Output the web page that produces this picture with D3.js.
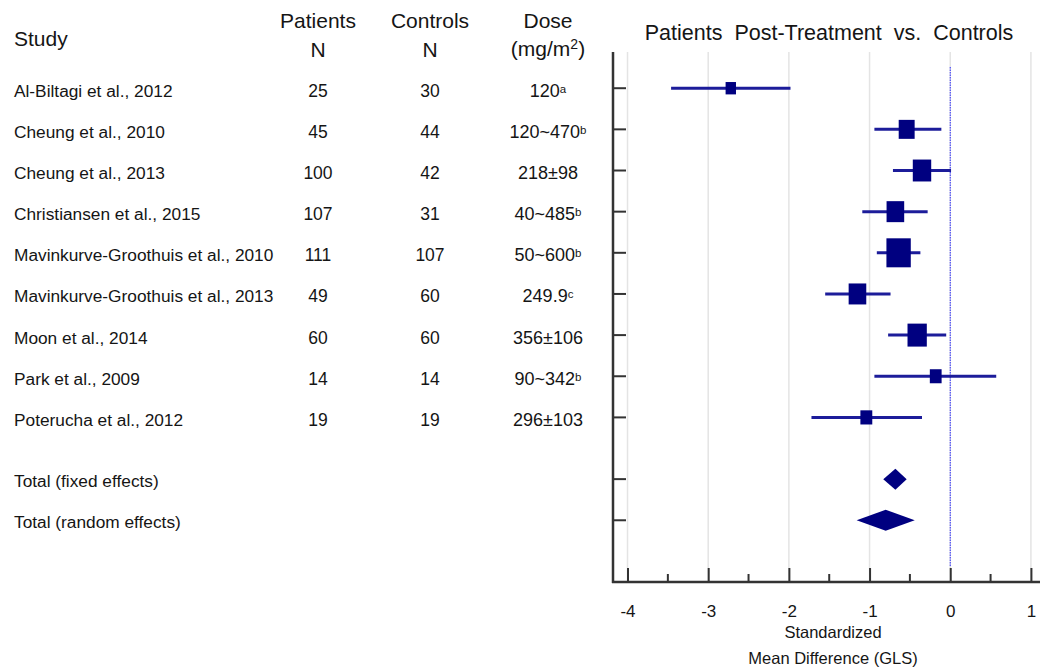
<!DOCTYPE html>
<html>
<head>
<meta charset="utf-8">
<script src="https://cdn.jsdelivr.net/npm/d3@7"></script>
<style>
  body { margin: 0; background: #fff; }
  svg text { font-family: "Liberation Sans", Arial, sans-serif; fill: #151515; }
</style>
</head>
<body>
<svg width="1040" height="669"></svg>
<script>
// study rows
var studies = ["Al-Biltagi et al., 2012", "Cheung et al., 2010", "Cheung et al., 2013",
   "Christiansen et al., 2015", "Mavinkurve-Groothuis et al., 2010",
   "Mavinkurve-Groothuis et al., 2013", "Moon et al., 2014", "Park et al., 2009",
   "Poterucha et al., 2012"];
var patientsN = [25, 45, 100, 107, 111, 49, 60, 14, 19];
var controlsN = [30, 44, 42, 31, 107, 60, 60, 14, 19];
var doseText = ["120", "120~470", "218±98", "40~485", "50~600", "249.9", "356±106", "90~342", "296±103"];
var doseNote = ["a", "b", "", "b", "b", "c", "", "b", ""];

// standardized mean difference and 95% CI
var smd   = [-2.72, -0.54, -0.35, -0.68, -0.64, -1.15, -0.41, -0.18, -1.04];
var lower = [-3.46, -0.94, -0.71, -1.09, -0.91, -1.55, -0.77, -0.94, -1.72];
var upper = [-1.98, -0.11, 0.01, -0.28, -0.37, -0.74, -0.05, 0.57, -0.35];
var weight = [4.2, 9.9, 13.2, 12.1, 23.1, 12.1, 14.5, 5.4, 5.5];

// pooled
var totalLabels = ["Total (fixed effects)", "Total (random effects)"];
var totalSmd   = [-0.68, -0.80];
var totalLower = [-0.83, -1.16];
var totalUpper = [-0.54, -0.44];

var xTicks = [-4, -3, -2, -1, 0, 1];
var xMinor = [-3.5, -2.5, -1.5, -0.5, 0.5];

var svg = d3.select("svg");

var x = d3.scaleLinear()
   .domain([-4.18, 1.12])
   .range([613, 1040.6]);

// row positions: studies 0..8, totals at 9.5 and 10.5
var y = d3.scaleLinear()
   .domain([-0.88, 12])
   .range([52, 582]);

var rowsStudy = studies.map(function(d, i) { return i; });
var rowsTotal = [9.5, 10.5];

var side = d3.scaleSqrt()
   .domain([0, 23.1])
   .range([0, 29]);

var navy = "#000080";
var lineCol = "#1c1c9a";

// ---- table headers ----
svg.append("text").attr("x", 14).attr("y", 46)
   .style("font-size", "21px").text("Study");

var heads = [
   {x: 318, a: "Patients", b: "N"},
   {x: 430, a: "Controls", b: "N"},
   {x: 548, a: "Dose", b: null}
];
heads.forEach(function(h) {
   svg.append("text").attr("x", h.x).attr("y", 28)
      .attr("text-anchor", "middle").style("font-size", "21px").text(h.a);
   if (h.b) {
      svg.append("text").attr("x", h.x).attr("y", 57)
         .attr("text-anchor", "middle").style("font-size", "21px").text(h.b);
   }
});
var unit = svg.append("text").attr("x", 548).attr("y", 56)
   .attr("text-anchor", "middle").style("font-size", "21px");
unit.append("tspan").text("(mg/m");
unit.append("tspan").attr("dy", -7).style("font-size", "14px").text("2");
unit.append("tspan").attr("dy", 7).text(")");

// ---- table body ----
var body = svg.append("g").attr("class", "table");

body.selectAll("text.study")
   .data(studies)
   .enter().append("text")
   .attr("class", "study")
   .attr("x", 14)
   .attr("y", function(d, i) { return y(rowsStudy[i]) + 8.5; })
   .style("font-size", "17.3px")
   .text(function(d) { return d; });

body.selectAll("text.pat")
   .data(patientsN)
   .enter().append("text")
   .attr("x", 318)
   .attr("y", function(d, i) { return y(rowsStudy[i]) + 8.5; })
   .attr("text-anchor", "middle")
   .style("font-size", "17.5px")
   .text(function(d) { return d; });

body.selectAll("text.ctl")
   .data(controlsN)
   .enter().append("text")
   .attr("x", 430)
   .attr("y", function(d, i) { return y(rowsStudy[i]) + 8.5; })
   .attr("text-anchor", "middle")
   .style("font-size", "17.5px")
   .text(function(d) { return d; });

doseText.forEach(function(d, i) {
   var t = body.append("text")
      .attr("x", 548)
      .attr("y", y(rowsStudy[i]) + 8.5)
      .attr("text-anchor", "middle")
      .style("font-size", "18px");
   t.append("tspan").text(d);
   if (doseNote[i]) {
      t.append("tspan").attr("dy", -4).style("font-size", "11.5px").text(doseNote[i]);
   }
});

body.selectAll("text.total")
   .data(totalLabels)
   .enter().append("text")
   .attr("x", 14)
   .attr("y", function(d, i) { return y(rowsTotal[i]) + 8; })
   .style("font-size", "17.3px")
   .text(function(d) { return d; });

// ---- forest plot ----
svg.append("text")
   .attr("x", 829).attr("y", 40)
   .attr("text-anchor", "middle")
   .style("font-size", "21.5px")
   .style("word-spacing", "6px")
   .text("Patients Post-Treatment vs. Controls");

var plot = svg.append("g").attr("class", "plot");

// grid lines
plot.selectAll("line.grid")
   .data(xTicks)
   .enter().append("line")
   .attr("x1", function(d) { return x(d); })
   .attr("x2", function(d) { return x(d); })
   .attr("y1", y.range()[0])
   .attr("y2", y.range()[1])
   .style("stroke", "#e4e4e4")
   .style("stroke-width", 1.5);

// zero reference line
plot.append("line")
   .attr("x1", x(0)).attr("x2", x(0))
   .attr("y1", 67).attr("y2", 566)
   .style("stroke", "#2b2bff")
   .style("stroke-width", 1)
   .style("stroke-dasharray", "1.5,1");

// confidence intervals
plot.selectAll("line.ci")
   .data(smd)
   .enter().append("line")
   .attr("x1", function(d, i) { return x(lower[i]); })
   .attr("x2", function(d, i) { return x(upper[i]); })
   .attr("y1", function(d, i) { return y(rowsStudy[i]); })
   .attr("y2", function(d, i) { return y(rowsStudy[i]); })
   .style("stroke", lineCol)
   .style("stroke-width", 3);

// weighted squares
plot.selectAll("rect.box")
   .data(smd)
   .enter().append("rect")
   .attr("x", function(d, i) { return x(d) - side(weight[i]) * 0.42; })
   .attr("y", function(d, i) { return y(rowsStudy[i]) - side(weight[i]) / 2; })
   .attr("width", function(d, i) { return side(weight[i]) * 0.84; })
   .attr("height", function(d, i) { return side(weight[i]); })
   .style("fill", navy);

// pooled diamonds
plot.selectAll("path.diamond")
   .data(totalSmd)
   .enter().append("path")
   .attr("d", function(d, i) {
      var cy = y(rowsTotal[i]);
      return "M" + x(totalLower[i]) + "," + cy +
         "L" + x(d) + "," + (cy - 10.5) +
         "L" + x(totalUpper[i]) + "," + cy +
         "L" + x(d) + "," + (cy + 10.5) + "Z";
   })
   .style("fill", navy);

// left axis with row ticks
var yTickRows = rowsStudy.concat(rowsTotal);
plot.append("line")
   .attr("x1", 613).attr("x2", 613)
   .attr("y1", y.range()[0]).attr("y2", y.range()[1] + 1)
   .style("stroke", "#333").style("stroke-width", 2.5);
plot.selectAll("line.ytick")
   .data(yTickRows)
   .enter().append("line")
   .attr("x1", 613).attr("x2", 626)
   .attr("y1", function(d) { return y(d); })
   .attr("y2", function(d) { return y(d); })
   .style("stroke", "#333").style("stroke-width", 2);

// bottom axis
var xAxis = d3.axisBottom(x)
   .tickValues(xTicks)
   .tickSize(-14)
   .tickPadding(23)
   .tickFormat(d3.format("d"));

var gx = plot.append("g")
   .attr("transform", "translate(0," + y.range()[1] + ")")
   .call(xAxis);
gx.select(".domain").remove();
gx.selectAll(".tick line").style("stroke", "#333").style("stroke-width", 2);
gx.selectAll(".tick text")
   .style("font-size", "17px")
   .style("font-family", "Liberation Sans, Arial, sans-serif")
   .style("fill", "#151515")
   .text(function(d) { return d < 0 ? "-" + Math.abs(d) : d; });

plot.selectAll("line.minor")
   .data(xMinor)
   .enter().append("line")
   .attr("x1", function(d) { return x(d); })
   .attr("x2", function(d) { return x(d); })
   .attr("y1", y.range()[1] - 8)
   .attr("y2", y.range()[1])
   .style("stroke", "#333").style("stroke-width", 2);

plot.append("line")
   .attr("x1", 612).attr("x2", 1040)
   .attr("y1", y.range()[1]).attr("y2", y.range()[1])
   .style("stroke", "#333").style("stroke-width", 2.5);

// axis title
plot.append("text")
   .attr("x", 833).attr("y", 638)
   .attr("text-anchor", "middle")
   .style("font-size", "16.5px")
   .text("Standardized");
plot.append("text")
   .attr("x", 833).attr("y", 664)
   .attr("text-anchor", "middle")
   .style("font-size", "16.5px")
   .text("Mean Difference (GLS)");
</script>
</body>
</html>
